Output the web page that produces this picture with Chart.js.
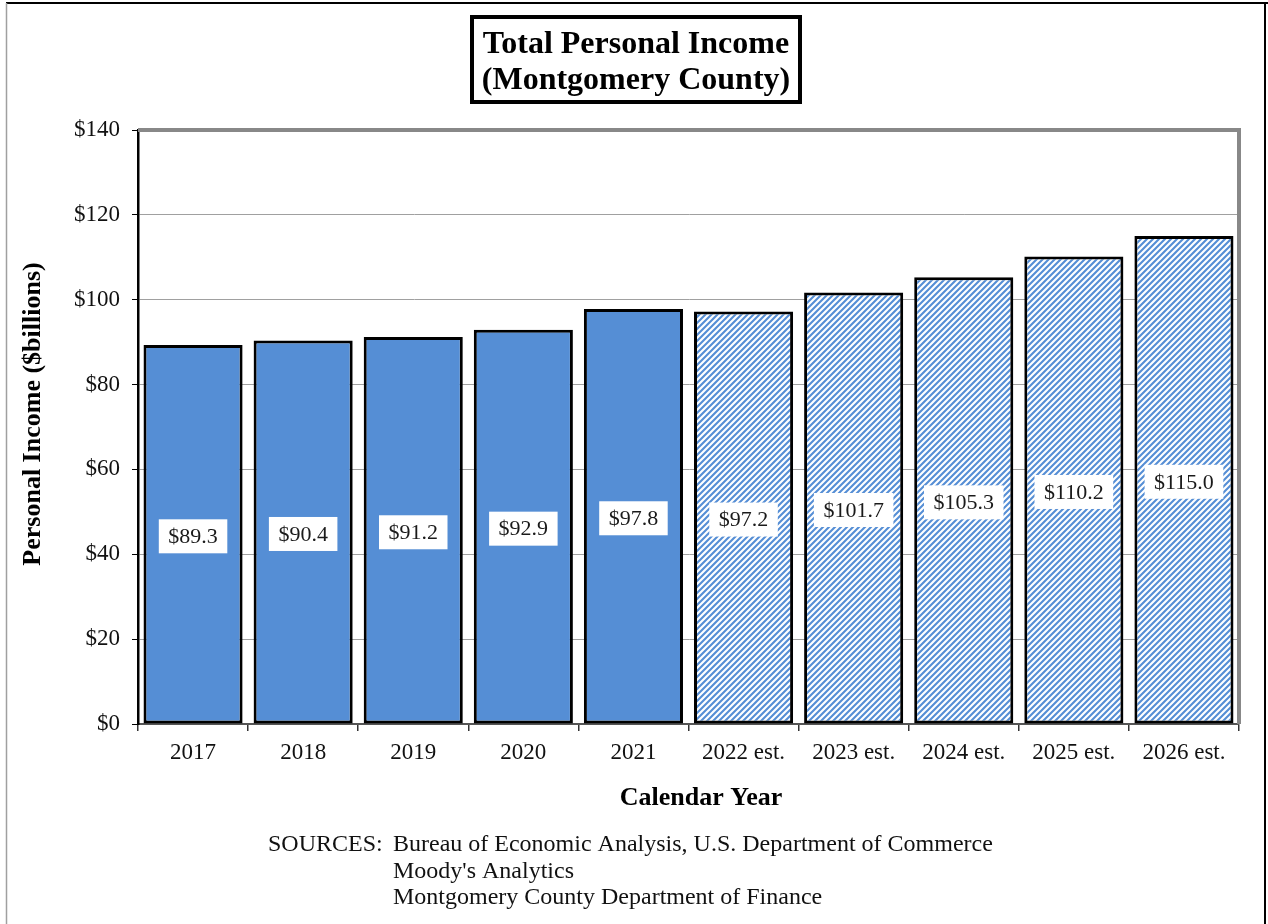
<!DOCTYPE html>
<html>
<head>
<meta charset="utf-8">
<title>Total Personal Income (Montgomery County)</title>
<script src="https://cdn.jsdelivr.net/npm/chart.js@4.4.1/dist/chart.umd.min.js"></script>
<style>
  html, body { margin: 0; padding: 0; background: #fff; }
  canvas { display: block; }
</style>
</head>
<body>
<canvas id="chart" width="1268" height="924" style="width:1268px;height:924px"></canvas>
<script>
// Calendar years shown on the x axis
const categories = ['2017', '2018', '2019', '2020', '2021',
  '2022 est.', '2023 est.', '2024 est.', '2025 est.', '2026 est.'];
// Total personal income, $ billions
const incomeValues = [89.3, 90.4, 91.2, 92.9, 97.8, 97.2, 101.7, 105.3, 110.2, 115.0];
// Which years are estimates (drawn hatched)
const isEstimate = [false, false, false, false, false, true, true, true, true, true];
// Y axis ticks, $ billions
const yTicks = [0, 20, 40, 60, 80, 100, 120, 140];

const chartTitle = ['Total Personal Income', '(Montgomery County)'];
const yAxisTitle = 'Personal Income ($billions)';
const xAxisTitle = 'Calendar Year';
const sourceLines = [
  ['SOURCES:', 'Bureau of Economic Analysis, U.S. Department of Commerce'],
  ['', "Moody's Analytics"],
  ['', 'Montgomery County Department of Finance']
];

const BLUE = '#558ed5';
const SERIF = '"Liberation Serif", "Times New Roman", serif';

function makeHatch(color) {
  const s = 6;
  const c = document.createElement('canvas');
  c.width = s; c.height = s;
  const g = c.getContext('2d');
  g.fillStyle = '#ffffff';
  g.fillRect(0, 0, s, s);
  g.strokeStyle = color;
  g.lineWidth = 2.1;
  g.beginPath();
  g.moveTo(-1, 1); g.lineTo(1, -1);
  g.moveTo(0, s); g.lineTo(s, 0);
  g.moveTo(s - 1, s + 1); g.lineTo(s + 1, s - 1);
  g.stroke();
  return g.createPattern(c, 'repeat');
}

const ctx = document.getElementById('chart').getContext('2d');
const hatch = makeHatch(BLUE);
const fills = isEstimate.map(e => (e ? hatch : BLUE));

// Frame, boxed title, axis titles, value labels and source notes
const decorations = {
  id: 'decorations',
  beforeDraw(chart) {
    const c = chart.ctx;
    c.save();
    c.fillStyle = '#fff';
    c.fillRect(0, 0, chart.width, chart.height);
    c.restore();
  },
  afterDatasetsDraw(chart) {
    const c = chart.ctx;
    const meta = chart.getDatasetMeta(0);
    const data = chart.data.datasets[0].data;
    c.save();
    c.font = '22px ' + SERIF;
    c.textAlign = 'center';
    c.textBaseline = 'middle';
    meta.data.forEach((bar, i) => {
      const txt = '$' + data[i].toFixed(1);
      const cy = (bar.y + bar.base) / 2 + 2;
      const w = c.measureText(txt).width + 19;
      const h = 34;
      c.fillStyle = '#fff';
      c.fillRect(bar.x - w / 2, cy - h / 2, w, h);
      c.fillStyle = '#1a1a1a';
      c.fillText(txt, bar.x, cy + 1);
    });
    c.restore();
  },
  afterDraw(chart) {
    const c = chart.ctx;
    const a = chart.chartArea;
    c.save();

    // grey frame on top and right of the plot area
    c.strokeStyle = '#888888';
    c.lineWidth = 4;
    c.beginPath();
    c.moveTo(a.left, a.top);
    c.lineTo(a.right, a.top);
    c.lineTo(a.right, a.bottom);
    c.stroke();

    // outer page frame
    c.lineWidth = 2;
    c.strokeStyle = '#000';
    c.beginPath(); c.moveTo(6, 3); c.lineTo(1268, 3); c.stroke();
    c.beginPath(); c.moveTo(1265, 3); c.lineTo(1265, 924); c.stroke();
    c.strokeStyle = '#a0a0a0';
    c.lineWidth = 1.5;
    c.beginPath(); c.moveTo(6.5, 3); c.lineTo(6.5, 924); c.stroke();

    // boxed title
    const tcx = 636;
    c.fillStyle = '#fff';
    c.fillRect(472, 17, 328, 85);
    c.strokeStyle = '#000';
    c.lineWidth = 4;
    c.strokeRect(472, 17, 328, 85);
    c.fillStyle = '#000';
    c.font = 'bold 32px ' + SERIF;
    c.textAlign = 'center';
    c.textBaseline = 'middle';
    c.fillText(chartTitle[0], tcx, 45);
    c.fillText(chartTitle[1], tcx, 81);

    // axis titles
    c.font = 'bold 26px ' + SERIF;
    c.fillText(xAxisTitle, 701, 798);
    c.save();
    c.translate(33, 414);
    c.rotate(-Math.PI / 2);
    c.fillText(yAxisTitle, 0, 0);
    c.restore();

    // source notes
    c.font = '24px ' + SERIF;
    c.textAlign = 'left';
    c.fillStyle = '#111';
    sourceLines.forEach((ln, i) => {
      const y = 845 + i * 26.5;
      if (ln[0]) c.fillText(ln[0], 268, y);
      c.fillText(ln[1], 393, y);
    });
    c.restore();
  }
};

new Chart(ctx, {
  type: 'bar',
  data: {
    labels: categories,
    datasets: [{
      label: 'Total Personal Income',
      data: incomeValues,
      backgroundColor: fills,
      borderColor: '#000',
      borderWidth: 3,
      borderSkipped: false,
      barPercentage: 0.9,
      categoryPercentage: 1.0
    }]
  },
  options: {
    responsive: false,
    animation: false,
    devicePixelRatio: 1,
    layout: { padding: { top: 130, right: 29, left: 0, bottom: 140 } },
    plugins: {
      legend: { display: false },
      title: { display: false },
      tooltip: { enabled: false }
    },
    scales: {
      x: {
        afterFit(scale) { scale.height = 60; },
        grid: {
          display: true,
          drawOnChartArea: false,
          offset: true,
          tickLength: 7,
          tickColor: '#333',
          lineWidth: 1.5
        },
        border: { display: true, color: '#555', width: 2 },
        ticks: {
          color: '#111',
          font: { family: SERIF, size: 23 },
          padding: 8,
          maxRotation: 0,
          autoSkip: false
        }
      },
      y: {
        min: 0,
        max: 140,
        afterFit(scale) { scale.width = 138; },
        afterBuildTicks(scale) { scale.ticks = yTicks.map(v => ({ value: v })); },
        grid: {
          color: '#a0a0a0',
          lineWidth: 1,
          tickColor: '#000',
          tickLength: 6
        },
        border: { display: true, color: '#000', width: 2.5 },
        ticks: {
          color: '#111',
          font: { family: SERIF, size: 23 },
          padding: 12,
          callback: v => '$' + v
        }
      }
    }
  },
  plugins: [decorations]
});
</script>
</body>
</html>
